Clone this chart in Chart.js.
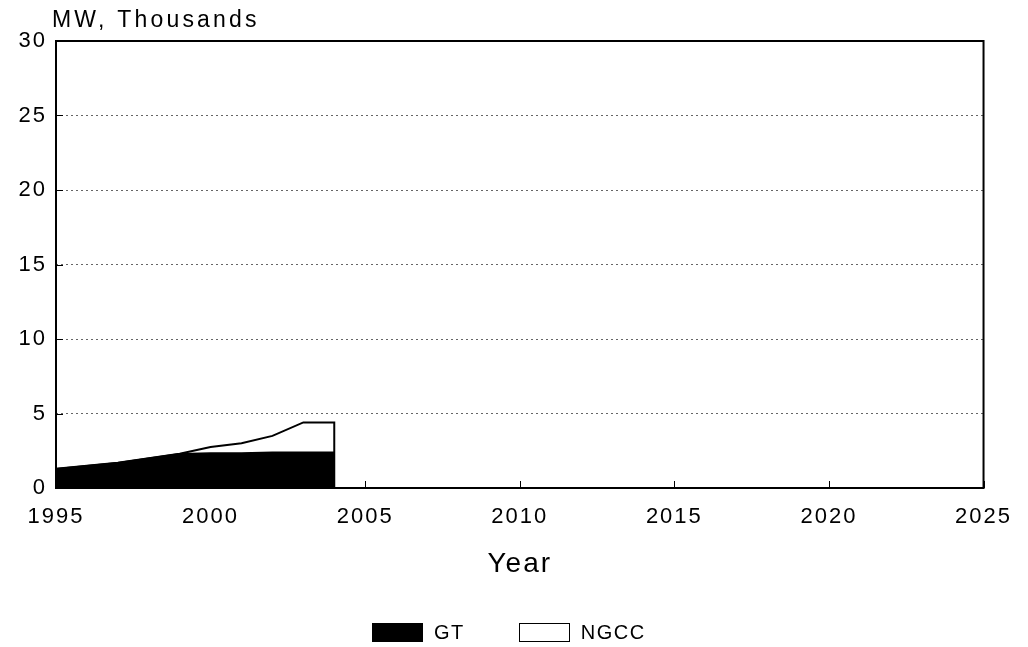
<!DOCTYPE html>
<html>
<head>
<meta charset="utf-8">
<script src="https://cdn.jsdelivr.net/npm/chart.js@4.4.1/dist/chart.umd.min.js"></script>
<style>
  html, body { margin: 0; padding: 0; background: #fff; }
  #wrap { position: relative; width: 1028px; height: 647px; }
  #legend {
    position: absolute; left: 372px; top: 621px;
    display: flex; align-items: center;
    font-family: 'Liberation Sans', Arial, sans-serif; font-size: 20px;
    letter-spacing: 1.5px; color: #000;
  }
  #legend .item { display: flex; align-items: center; margin-right: 54px; }
  #legend .swatch { width: 51px; height: 19px; box-sizing: border-box; margin-right: 11px; }
</style>
</head>
<body>
<div id="wrap">
  <canvas id="chart" width="1028" height="647"></canvas>
  <div id="legend"></div>
</div>
<script>
// Installed capacity additions, thousands of MW
const years = [1995, 1996, 1997, 1998, 1999, 2000, 2001, 2002, 2003, 2004];
const gtMW = [1.3, 1.5, 1.7, 2.0, 2.3, 2.35, 2.35, 2.4, 2.4, 2.4];
const ngccMW = [0, 0, 0, 0, 0, 0.4, 0.65, 1.1, 2.0, 2.0];
const seriesNames = ['GT', 'NGCC'];
const xTickValues = [1995, 2000, 2005, 2010, 2015, 2020, 2025];
const yTickValues = [0, 5, 10, 15, 20, 25, 30];
const yUnitLabel = 'MW, Thousands';
const xTitle = 'Year';

const FONT = "'Liberation Sans', Arial, Helvetica, sans-serif";
const SPACING = '2px';

// stacked top of each band; the area closes straight down to zero after the last year
const ngccTop = gtMW.map((v, i) => v + ngccMW[i]);
function toPoints(vals) {
  const pts = years.map((x, i) => ({ x, y: vals[i] }));
  pts.push({ x: years[years.length - 1], y: 0 });
  return pts;
}

// wide lettering used by the axis text
const spacingPlugin = {
  id: 'spacing',
  beforeUpdate(chart) { chart.ctx.letterSpacing = SPACING; },
  beforeDraw(chart) { chart.ctx.letterSpacing = SPACING; }
};

// plot frame plus inward tick marks
const framePlugin = {
  id: 'frame',
  afterDatasetsDraw(chart) {
    const { ctx, chartArea: a, scales } = chart;
    ctx.save();
    ctx.strokeStyle = '#000';
    ctx.lineWidth = 1;
    ctx.beginPath();
    scales.x.ticks.forEach(t => {
      const px = Math.round(scales.x.getPixelForValue(t.value)) + 0.5;
      ctx.moveTo(px, a.bottom);
      ctx.lineTo(px, a.bottom - 7);
    });
    scales.y.ticks.forEach(t => {
      const py = Math.round(scales.y.getPixelForValue(t.value)) + 0.5;
      ctx.moveTo(a.left, py);
      ctx.lineTo(a.left + 7, py);
    });
    ctx.stroke();
    ctx.lineWidth = 2;
    ctx.strokeRect(a.left, a.top, a.right - a.left, a.bottom - a.top);
    ctx.restore();
  }
};

// unit caption above the value axis
const unitPlugin = {
  id: 'unit',
  afterDraw(chart) {
    const { ctx, chartArea: a } = chart;
    ctx.save();
    ctx.letterSpacing = '3.2px';
    ctx.font = '23px ' + FONT;
    ctx.fillStyle = '#000';
    ctx.textAlign = 'left';
    ctx.textBaseline = 'alphabetic';
    ctx.fillText(yUnitLabel, a.left - 4, a.top - 14);
    ctx.restore();
  }
};

const chart = new Chart(document.getElementById('chart'), {
  type: 'line',
  data: {
    datasets: [
      {
        label: seriesNames[0],
        data: toPoints(gtMW),
        fill: 'origin',
        backgroundColor: '#000',
        borderColor: '#000',
        borderWidth: 1.5,
        pointRadius: 0,
        tension: 0
      },
      {
        label: seriesNames[1],
        data: toPoints(ngccTop),
        fill: 'origin',
        backgroundColor: '#fff',
        borderColor: '#000',
        borderWidth: 2,
        pointRadius: 0,
        tension: 0
      }
    ]
  },
  options: {
    responsive: false,
    animation: false,
    layout: { padding: { top: 41, right: 41, left: 0, bottom: 66 } },
    plugins: { legend: { display: false }, tooltip: { enabled: false } },
    scales: {
      x: {
        type: 'linear',
        min: xTickValues[0],
        max: xTickValues[xTickValues.length - 1],
        afterBuildTicks: s => { s.ticks = xTickValues.map(v => ({ value: v })); },
        grid: { display: false, drawTicks: false },
        border: { display: false },
        ticks: {
          callback: v => String(v),
          font: { family: FONT, size: 22 },
          color: '#000',
          padding: 16,
          maxRotation: 0,
          autoSkip: false
        },
        title: {
          display: true,
          text: xTitle,
          font: { family: FONT, size: 28 },
          color: '#000',
          padding: { top: 1, bottom: 0 }
        }
      },
      y: {
        min: yTickValues[0],
        max: yTickValues[yTickValues.length - 1],
        afterBuildTicks: s => { s.ticks = yTickValues.map(v => ({ value: v })); },
        afterFit: s => { s.width = 56; },
        grid: { color: '#666', lineWidth: 1, drawTicks: false },
        border: { display: false, dash: [2, 3] },
        ticks: {
          font: { family: FONT, size: 22 },
          color: '#000',
          padding: 9
        }
      }
    }
  },
  plugins: [spacingPlugin, framePlugin, unitPlugin]
});

// legend entries built from the datasets
const legend = document.getElementById('legend');
chart.data.datasets.forEach(ds => {
  const item = document.createElement('div');
  item.className = 'item';
  const sw = document.createElement('span');
  sw.className = 'swatch';
  sw.style.background = ds.backgroundColor;
  sw.style.border = '1px solid ' + ds.borderColor;
  const txt = document.createElement('span');
  txt.textContent = ds.label;
  item.appendChild(sw);
  item.appendChild(txt);
  legend.appendChild(item);
});
</script>
</body>
</html>
